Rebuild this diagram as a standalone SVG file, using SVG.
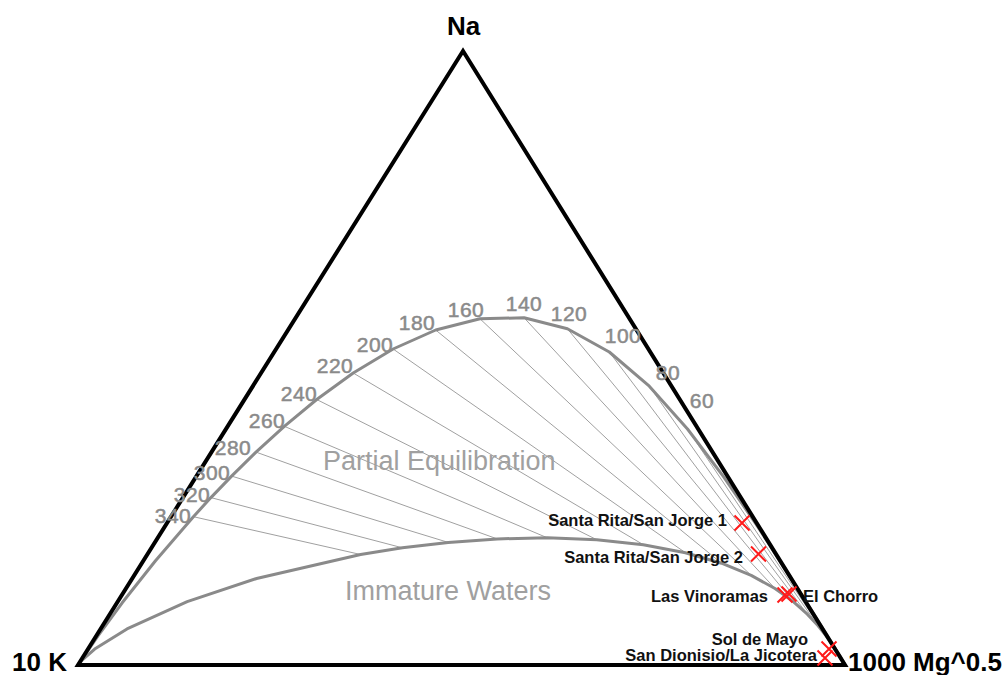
<svg xmlns="http://www.w3.org/2000/svg" xmlns:xlink="http://www.w3.org/1999/xlink" width="1006" height="675" viewBox="0 0 1006 675">
<style>
.edge{fill:none;stroke:#000;stroke-width:4;stroke-linejoin:miter}
.curve{fill:none;stroke:#8a8a8a;stroke-width:3;stroke-linejoin:round;stroke-linecap:round}
.iso{fill:none;stroke:#a0a0a0;stroke-width:1}
.tl{font-family:"Liberation Sans",Arial,sans-serif;font-size:21px;fill:#8a8a8a;stroke:#8a8a8a;stroke-width:0.5;text-anchor:middle;letter-spacing:0.5px}
.region{font-family:"Liberation Sans",Arial,sans-serif;font-size:27px;fill:#a0a0a0}
.vtx{font-family:"Liberation Sans",Arial,sans-serif;font-size:26px;font-weight:bold;fill:#000}
.pt{font-family:"Liberation Sans",Arial,sans-serif;font-size:16.5px;font-weight:bold;fill:#111}
.xm{fill:none;stroke:#ff1a1a;stroke-width:2}
</style>
<defs>
<path id="xmark" class="xm" d="M-7.5,-7.5 L7.5,7.5 M-7.5,7.5 L7.5,-7.5"/>
</defs>
<rect width="1006" height="675" fill="#fff"/>

<g id="connectors">
<line class="iso" x1="193.4" y1="516.7" x2="360.6" y2="554.5"/>
<line class="iso" x1="210.9" y1="497.6" x2="402.4" y2="547.8"/>
<line class="iso" x1="231.6" y1="476.1" x2="448.2" y2="542.4"/>
<line class="iso" x1="256.0" y1="452.1" x2="497.2" y2="538.9"/>
<line class="iso" x1="284.3" y1="426.3" x2="547.3" y2="537.8"/>
<line class="iso" x1="316.7" y1="399.5" x2="596.7" y2="539.7"/>
<line class="iso" x1="353.2" y1="373.0" x2="643.3" y2="544.7"/>
<line class="iso" x1="393.1" y1="349.0" x2="685.4" y2="552.7"/>
<line class="iso" x1="435.7" y1="330.0" x2="721.5" y2="563.2"/>
<line class="iso" x1="480.0" y1="318.8" x2="751.2" y2="575.4"/>
<line class="iso" x1="524.1" y1="317.8" x2="775.0" y2="588.5"/>
<line class="iso" x1="567.4" y1="328.8" x2="793.3" y2="601.6"/>
<line class="iso" x1="609.3" y1="352.0" x2="807.3" y2="614.2"/>
<line class="iso" x1="649.3" y1="386.2" x2="817.9" y2="625.6"/>
<line class="iso" x1="687.5" y1="429.0" x2="825.9" y2="635.6"/>
</g>

<g id="full-equilibrium">
<polyline class="curve" points="78,665 87.7,650.8 97.8,636.2 122.2,602.8 155.5,560.7 193.4,516.7 210.9,497.6 231.6,476.1 256.0,452.1 284.3,426.3 316.7,399.5 353.2,373.0 393.1,349.0 435.7,330.0 480.0,318.8 524.1,317.8 567.4,328.8 609.3,352.0 649.3,386.2 687.5,429.0 723.5,476.7 756.4,524.6 784.9,568.5 807.8,604.6 830.3,640.6 845,665"/>
</g>

<g id="immature-boundary">
<polyline class="curve" points="78,665 82.1,660.2 94.7,649.1 127.0,628.9 187.2,601.7 256.6,578.5 360.6,554.5 402.4,547.8 448.2,542.4 497.2,538.9 547.3,537.8 596.7,539.7 643.3,544.7 685.4,552.7 721.5,563.2 751.2,575.4 775.0,588.5 793.3,601.6 807.3,614.2 817.9,625.6 825.9,635.6 833.7,646.6 840.6,657.1 845,665"/>
</g>

<g id="triangle">
<polygon class="edge" points="463,51 78,665 845,665"/>
</g>

<g id="vertex-labels">
<text class="vtx" x="463.5" y="35" text-anchor="middle">Na</text>
<text class="vtx" x="12" y="671">10 K</text>
<text class="vtx" x="848" y="671">1000 Mg^0.5</text>
</g>

<g id="temperature-labels">
<text class="tl" x="173" y="523">340</text>
<text class="tl" x="192" y="502">320</text>
<text class="tl" x="212" y="480">300</text>
<text class="tl" x="233" y="455">280</text>
<text class="tl" x="267" y="428">260</text>
<text class="tl" x="299" y="401">240</text>
<text class="tl" x="335" y="373">220</text>
<text class="tl" x="375" y="352">200</text>
<text class="tl" x="417" y="330">180</text>
<text class="tl" x="466" y="317">160</text>
<text class="tl" x="524" y="311">140</text>
<text class="tl" x="569" y="321">120</text>
<text class="tl" x="623" y="343">100</text>
<text class="tl" x="668" y="380">80</text>
<text class="tl" x="702" y="408">60</text>
</g>

<g id="region-labels">
<text class="region" x="323" y="470">Partial Equilibration</text>
<text class="region" x="345" y="600">Immature Waters</text>
</g>

<g id="santa-rita-1">
<use xlink:href="#xmark" href="#xmark" x="742" y="523"/>
<text class="pt" x="727" y="526" text-anchor="end">Santa Rita/San Jorge 1</text>
</g>
<g id="santa-rita-2">
<use xlink:href="#xmark" href="#xmark" x="758.5" y="554"/>
<text class="pt" x="743" y="563" text-anchor="end">Santa Rita/San Jorge 2</text>
</g>
<g id="las-vinoramas">
<use xlink:href="#xmark" href="#xmark" x="785" y="595"/>
<text class="pt" x="768" y="601.5" text-anchor="end">Las Vinoramas</text>
</g>
<g id="el-chorro">
<use xlink:href="#xmark" href="#xmark" x="789" y="594"/>
<text class="pt" x="803" y="601.5">El Chorro</text>
</g>
<g id="sol-de-mayo">
<use xlink:href="#xmark" href="#xmark" x="829" y="649"/>
<text class="pt" x="808" y="645" text-anchor="end">Sol de Mayo</text>
</g>
<g id="san-dionisio">
<use xlink:href="#xmark" href="#xmark" x="825" y="658"/>
<text class="pt" x="817" y="661" text-anchor="end">San Dionisio/La Jicotera</text>
</g>
</svg>
